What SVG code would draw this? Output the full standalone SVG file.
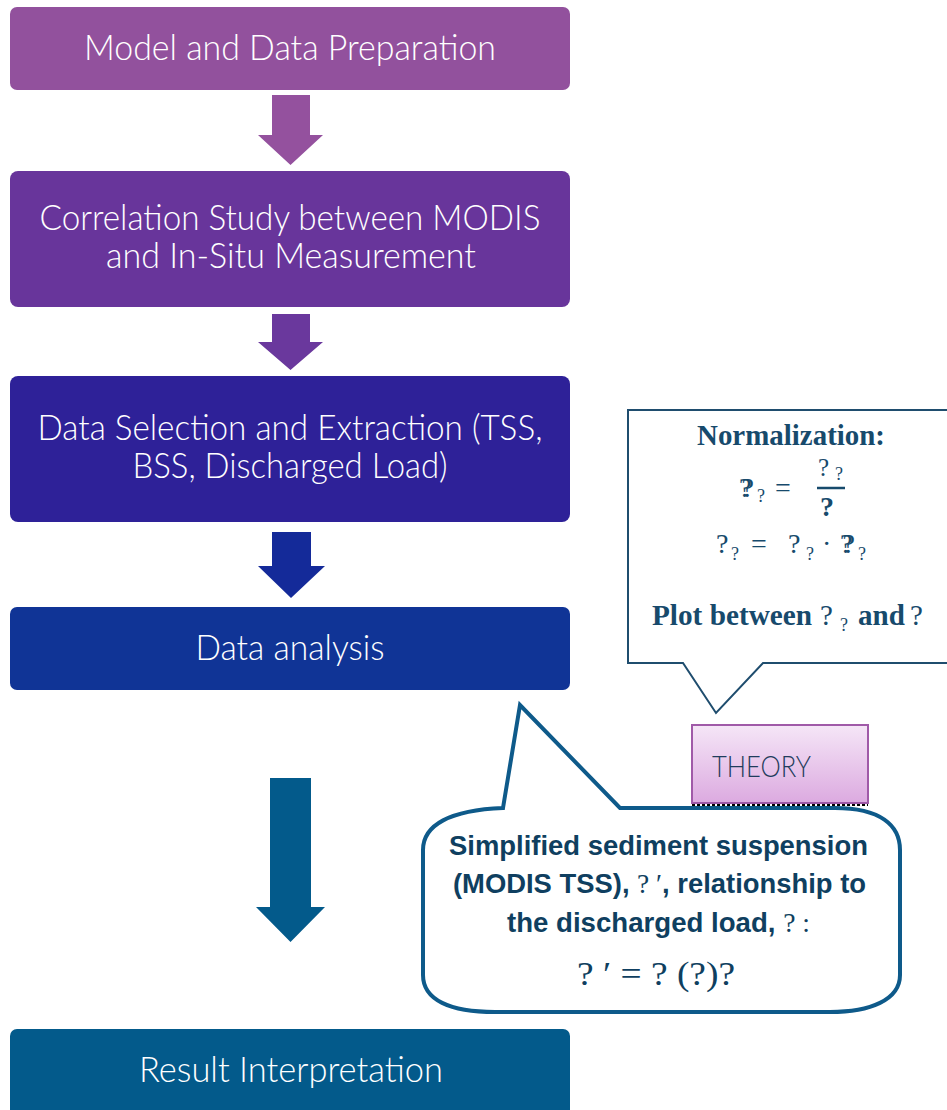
<svg xmlns="http://www.w3.org/2000/svg" width="947" height="1110" viewBox="0 0 947 1110">
<style>
.box text{fill:#fff;font-family:Lato,"Open Sans","Liberation Sans",sans-serif;font-weight:300;font-size:35px;text-anchor:middle}
.ser{font-family:"Liberation Serif","DejaVu Serif",serif;fill:#174a6c}
.bt{font-family:"Liberation Sans",Arial,sans-serif;font-weight:bold;font-size:27px;fill:#0f3f60}
.mth{font-family:"Liberation Serif","DejaVu Serif",serif;font-weight:normal}
</style>
<defs>
<linearGradient id="thg" x1="0" y1="0" x2="0" y2="1">
<stop offset="0" stop-color="#f5e6f7"/>
<stop offset="1" stop-color="#dcaae0"/>
</linearGradient>
</defs>
<g id="connectors">
<polygon points="272,95 310,95 310,135 323,135 290.5,165 258,135 272,135" fill="#94519e"/>
<polygon points="272,314 310,314 310,342 323,342 290.5,370 258,342 272,342" fill="#6a389d"/>
<polygon points="272,532 311,532 311,566 325,566 291,598 258,566 272,566" fill="#142a99"/>
<polygon points="270,778 311,778 311,907 325,907 290.5,942 256,907 270,907" fill="#035a8b"/>
</g>
<g id="n1" class="box"><rect x="10" y="7" width="560" height="83" rx="7" fill="#92519d"/><text x="290" y="60" textLength="412" lengthAdjust="spacingAndGlyphs">Model and Data Preparation</text></g>
<g id="n2" class="box"><rect x="10" y="171" width="560" height="136" rx="8" fill="#68359b"/><text x="290" y="230" textLength="501" lengthAdjust="spacingAndGlyphs">Correlation Study between MODIS</text><text x="291" y="268" textLength="370" lengthAdjust="spacingAndGlyphs">and In-Situ Measurement</text></g>
<g id="n3" class="box"><rect x="10" y="376" width="560" height="146" rx="8" fill="#2e2198"/><text x="290" y="440" textLength="505" lengthAdjust="spacingAndGlyphs">Data Selection and Extraction (TSS,</text><text x="290" y="478" textLength="315" lengthAdjust="spacingAndGlyphs">BSS, Discharged Load)</text></g>
<g id="n4" class="box"><rect x="10" y="607" width="560" height="83" rx="7" fill="#103496"/><text x="290" y="660" textLength="189" lengthAdjust="spacingAndGlyphs">Data analysis</text></g>
<g id="n5" class="box"><rect x="10" y="1029" width="560" height="95" rx="7" fill="#035a8b"/><text x="291" y="1082" textLength="304" lengthAdjust="spacingAndGlyphs">Result Interpretation</text></g>
<g id="normalization">
<path d="M628 410 L952 410 L952 663 L763 663 L716 713 L683 663 L628 663 Z" fill="#fff" stroke="#1f4d6e" stroke-width="2"/>
<text class="ser" x="697" y="445" font-size="29" font-weight="bold" textLength="188" lengthAdjust="spacingAndGlyphs">Normalization:</text>
<text class="ser" font-size="28"><tspan x="739" y="497" letter-spacing="-10">??</tspan><tspan x="757" y="502" font-size="18">?</tspan><tspan x="775" y="497">=</tspan></text>
<text class="ser" font-size="25" x="818" y="476">?</text>
<text class="ser" font-size="18" x="835" y="480">?</text>
<line x1="817" y1="488" x2="845" y2="488" stroke="#174a6c" stroke-width="2.5"/>
<text class="ser" font-size="28" font-weight="bold" x="820" y="516">?</text>
<text class="ser" font-size="28"><tspan x="716" y="553">?</tspan><tspan x="731" y="560" font-size="18">?</tspan><tspan x="751" y="553">=</tspan><tspan x="788" y="553">?</tspan><tspan x="806" y="560" font-size="18">?</tspan><tspan x="822" y="553">·</tspan><tspan x="840" y="553" letter-spacing="-10">??</tspan><tspan x="858" y="560" font-size="18">?</tspan></text>
<text class="ser" font-size="29" font-weight="bold" x="652" y="625" textLength="160" lengthAdjust="spacingAndGlyphs">Plot between</text>
<text class="ser" font-size="29"><tspan x="820" y="625">?</tspan><tspan x="840" y="631" font-size="18">?</tspan></text>
<text class="ser" font-size="29" font-weight="bold" x="858" y="625">and</text>
<text class="ser" font-size="29" x="910" y="625">?</text>
</g>
<g id="theory">
<rect x="692" y="725" width="176" height="78" fill="url(#thg)" stroke="#a05aa8" stroke-width="2"/>
<line x1="692" y1="805" x2="868" y2="805" stroke="#000" stroke-width="2" stroke-dasharray="3 2"/>
<text x="712" y="777" font-family="Lato,'Open Sans','Liberation Sans',sans-serif" font-weight="300" font-size="29" fill="#1f3c5c" textLength="99" lengthAdjust="spacingAndGlyphs">THEORY</text>
</g>
<g id="relationship">
<path d="M503 808 L520 705 L620 808 L835 808 C880 808 900 825 900 850 L900 975 C900 1000 870 1012 830 1012 L495 1012 C450 1012 423 1000 423 975 L423 850 C423 825 450 810 503 808 Z" fill="#fff" stroke="#0e5a8a" stroke-width="4"/>
<text class="bt" x="449" y="855" textLength="419" lengthAdjust="spacingAndGlyphs">Simplified sediment suspension</text>
<text class="bt" x="453" y="893" textLength="413" lengthAdjust="spacingAndGlyphs">(MODIS TSS), <tspan class="mth">? ′</tspan>, relationship to</text>
<text class="bt" x="507" y="932" textLength="303" lengthAdjust="spacingAndGlyphs">the discharged load, <tspan class="mth">? :</tspan></text>
<text x="577" y="985" font-family="'Liberation Serif','DejaVu Serif',serif" font-size="33" fill="#0f3f60" textLength="158" lengthAdjust="spacingAndGlyphs">? ′ = ? (?)?</text>
</g>
</svg>
